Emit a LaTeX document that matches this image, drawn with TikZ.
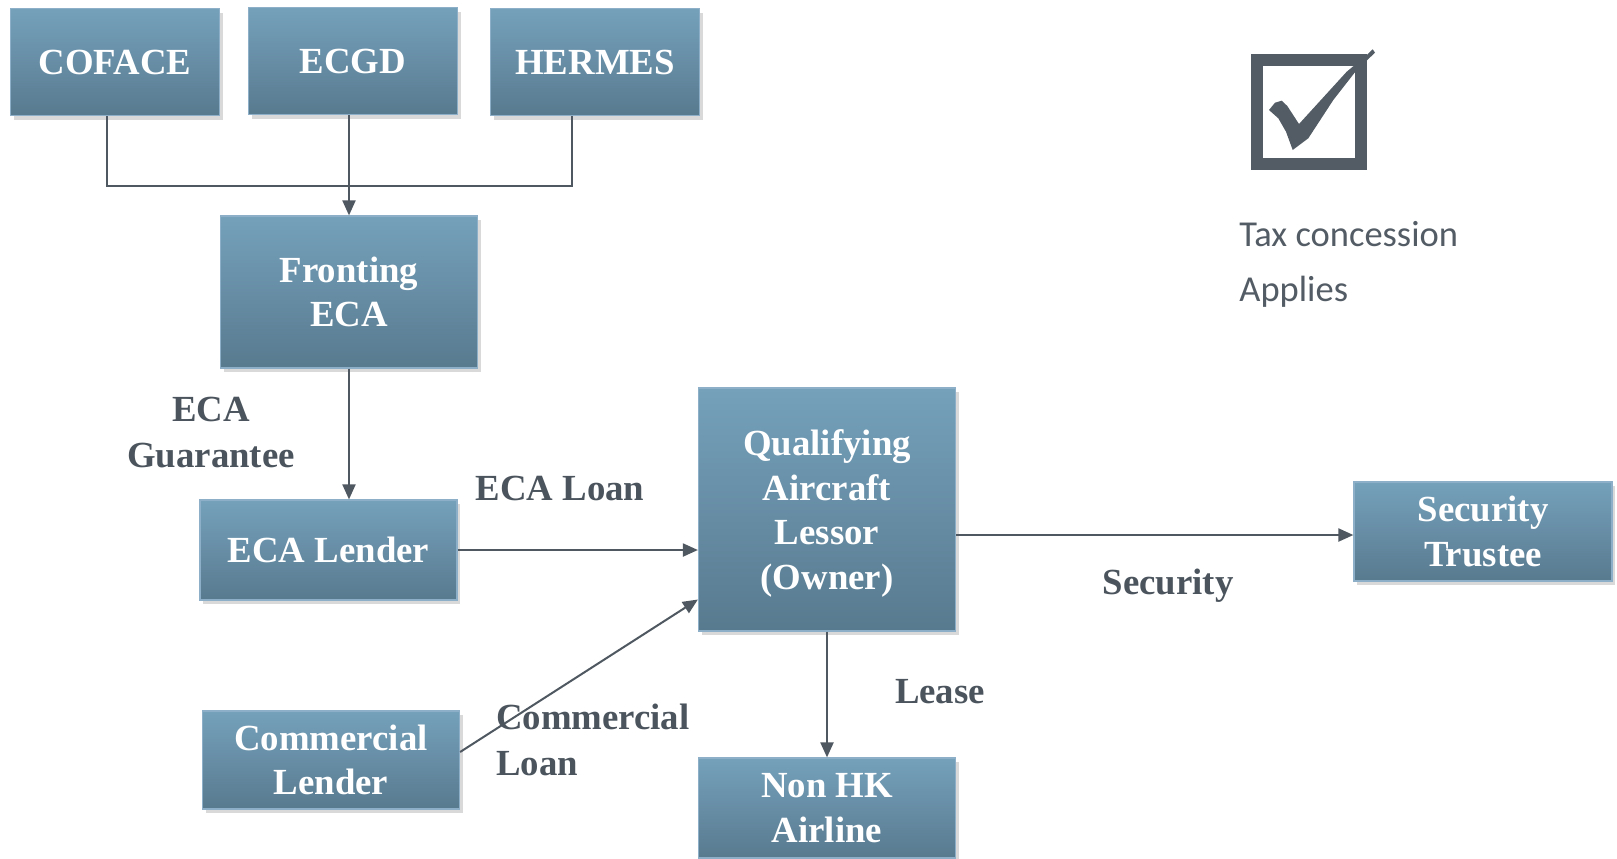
\documentclass[tikz,border=0pt]{standalone}
\usepackage{fontspec}
\setmainfont{Liberation Serif}
\newfontfamily\taxfont{Carlito}
\usetikzlibrary{arrows.meta, shadows}

\definecolor{boxtop}{RGB}{117,161,187}
\definecolor{boxbot}{RGB}{88,122,143}
\definecolor{boxline}{RGB}{141,176,200}
\definecolor{linegray}{RGB}{79,88,97}
\definecolor{labelgray}{RGB}{75,84,93}
\definecolor{chkgray}{RGB}{83,92,101}

\begin{document}
\begin{tikzpicture}[x=0.5pt, y=-0.5pt, >={Triangle[length=7.5pt, width=6.5pt]},
  box/.style={draw=boxline, line width=0.6pt, top color=boxtop, bottom color=boxbot,
    text=white, font=\bfseries\fontsize{18.4}{22.2}\selectfont, align=center, inner sep=0pt,
    drop shadow={opacity=0.3, shadow xshift=1.5pt, shadow yshift=-2pt}},
  link/.style={draw=linegray, line width=1pt},
  tag/.style={text=labelgray, font=\bfseries\fontsize{18.4}{23}\selectfont}]

  \useasboundingbox (0,0) rectangle (1617,858);

  % agencies
  \node[box, minimum width=104.5pt, minimum height=53.5pt] (cofa) at (115,62) {COFACE};
  \node[box, minimum width=104.5pt, minimum height=53.5pt] (ecgd) at (353,61) {ECGD};
  \node[box, minimum width=104.5pt, minimum height=53.5pt] (herm) at (595,62) {HERMES};

  \node[box, minimum width=128.5pt, minimum height=76pt] (front) at (349,292) {Fronting\\ECA};
  \node[box, minimum width=128.5pt, minimum height=50pt] (lend) at (328.5,550) {ECA Lender};
  \node[box, minimum width=128.5pt, minimum height=49pt] (comm) at (331,760) {Commercial\\Lender};
  \node[box, minimum width=128.5pt, minimum height=121.5pt, text depth=0pt] (qal) at (827,509.5) {Qualifying\\Aircraft\\Lessor\\(Owner)};
  \node[box, minimum width=128.5pt, minimum height=50pt] (airl) at (827,808) {Non HK\\Airline};
  \node[box, minimum width=129pt, minimum height=49.5pt] (trus) at (1483,531.5) {Security\\Trustee};

  % connectors
  \coordinate (bus) at (349,186);
  \draw[link] ([xshift=-4pt]cofa.south) |- (bus) -| ([xshift=-11.5pt]herm.south);
  \draw[link, ->] (ecgd.south -| front.north) -- (front.north);
  \draw[link, ->] (front.south) -- (front.south |- lend.north);
  \draw[link, ->] (lend.east) -- (lend.east -| qal.west);
  \draw[link, ->] ([yshift=4pt]comm.east) -- ([yshift=-45pt]qal.west);
  \draw[link, ->] (qal.south) -- (airl.north);
  \draw[link, ->] ([yshift=-1.75pt]trus.west -| qal.east) -- ([yshift=-1.75pt]trus.west);

  % labels
  \node[tag, align=center] (gua) at (211,433) {ECA\\Guarantee};
  \node[tag] (loan) at (560,488) {ECA Loan};
  \node[tag, align=left, anchor=west] (cloan) at (489,740) {Commercial\\Loan};
  \node[tag] (lease) at (940,692) {Lease};
  \node[tag] (secu) at (1168,586) {Security};

  % tick box
  \draw[chkgray, line width=5.75pt] (1257,60) rectangle (1361,164);
  \fill[chkgray] (1269,110) -- (1275,102.7) -- (1281.7,100.7) -- (1287.3,106) -- (1299,124)
    -- (1346.7,71.7) -- (1366.7,55) -- (1372.7,49.3) -- (1375,52.7) -- (1356.7,70)
    -- (1333.3,100) -- (1308.3,138.3) -- (1292.7,150) -- (1286,131.7) -- (1278.3,118.3) -- cycle;
  \node[text=chkgray, font=\taxfont\fontsize{18.25}{27.5}\selectfont, align=left, anchor=west,
    inner sep=0pt] (tax) at (1239,264) {Tax concession\\Applies};

\end{tikzpicture}
\end{document}
